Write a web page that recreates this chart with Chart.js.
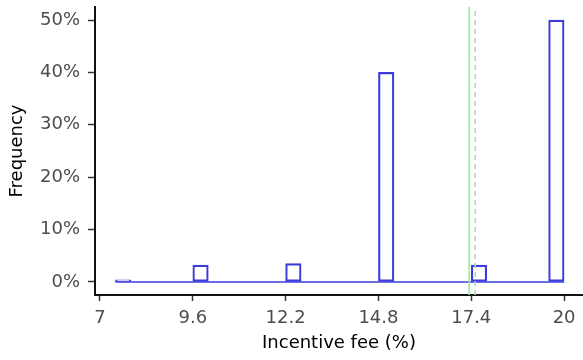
<!DOCTYPE html>
<html>
<head>
<meta charset="utf-8">
<script src="https://cdn.jsdelivr.net/npm/chart.js@4"></script>
<style>
  html, body { margin: 0; padding: 0; background: #fff; }
  #wrap { width: 583px; height: 360px; }
</style>
</head>
<body>
<div id="wrap"><canvas id="histChart"></canvas></div>
<script>
// histogram bins: 29 bins of width 13/30 starting at 7.433
const binStart = 7 + 13 / 30;
const binWidth = 13 / 30;
const frequency = [0.4, 0, 0, 0, 0, 3.2, 0, 0, 0, 0, 0, 3.5, 0, 0, 0, 0, 0, 40, 0, 0, 0, 0, 0, 3.2, 0, 0, 0, 0, 50];
const meanLine = 17.34;
const medianLine = 17.51;
const xTicks = [7, 9.6, 12.2, 14.8, 17.4, 20];
const yTicks = [0, 10, 20, 30, 40, 50];

const binEnd = binStart + binWidth * frequency.length;
const bars = frequency.map((v, i) => ({ x: binStart + binWidth * (i + 0.5), y: v }));

const tickFont = { family: "DejaVu Sans", size: 18 };
const blue = "#3c3cdc";

const ctx = document.getElementById("histChart").getContext("2d");
new Chart(ctx, {
    type: "bar",
    data: {
        datasets: [
            {
                type: "line",
                data: [{ x: binStart, y: 0 }, { x: binEnd, y: 0 }],
                borderColor: blue,
                borderWidth: 1.5,
                pointRadius: 0,
                order: 3
            },
            {
                type: "bar",
                data: bars,
                backgroundColor: "rgba(255,255,255,0)",
                borderColor: blue,
                borderWidth: 1.5,
                borderSkipped: false,
                barPercentage: 1,
                categoryPercentage: 1,
                order: 2
            },
            {
                type: "line",
                data: [{ x: meanLine, y: -2.5 }, { x: meanLine, y: 52.5 }],
                borderColor: "#90ee90",
                borderWidth: 1.5,
                pointRadius: 0,
                order: 1
            },
            {
                type: "line",
                data: [{ x: medianLine, y: -2.5 }, { x: medianLine, y: 52.5 }],
                borderColor: "#a6dba6",
                borderWidth: 1.5,
                borderDash: [5, 4],
                pointRadius: 0,
                order: 0
            }
        ]
    },
    options: {
        responsive: true,
        maintainAspectRatio: false,
        animation: false,
        layout: { padding: { top: 7, left: 0, right: 0, bottom: 0 } },
        plugins: { legend: { display: false }, tooltip: { enabled: false } },
        scales: {
            x: {
                type: "linear",
                offset: false,
                min: 6.86,
                max: 20.53,
                afterBuildTicks: (s) => { s.ticks = xTicks.map(v => ({ value: v })); },
                afterFit: (s) => { s.height = 65; s.paddingLeft = 0; s.paddingRight = 0; },
                ticks: {
                    color: "#4d4d4d",
                    font: tickFont,
                    padding: 7,
                    maxRotation: 0,
                    callback: (v) => String(v)
                },
                grid: { offset: false, drawOnChartArea: false, drawTicks: true, tickLength: 6, color: "#333", tickWidth: 1.5 },
                border: { display: true, color: "#111", width: 2 },
                title: {
                    display: true,
                    text: "Incentive fee (%)",
                    color: "#000",
                    font: tickFont,
                    padding: { top: 0, bottom: 6 }
                }
            },
            y: {
                min: -2.5,
                max: 52.5,
                afterBuildTicks: (s) => { s.ticks = yTicks.map(v => ({ value: v })); },
                afterFit: (s) => { s.width = 95; s.paddingTop = 0; s.paddingBottom = 0; },
                ticks: {
                    color: "#4d4d4d",
                    font: tickFont,
                    padding: 8,
                    callback: (v) => v + "%"
                },
                grid: { drawOnChartArea: false, drawTicks: true, tickLength: 7, color: "#333", tickWidth: 1.5 },
                border: { display: true, color: "#111", width: 2 },
                title: {
                    display: true,
                    text: "Frequency",
                    color: "#000",
                    font: tickFont,
                    padding: { top: 7, bottom: 0 }
                }
            }
        }
    }
});
</script>
</body>
</html>
